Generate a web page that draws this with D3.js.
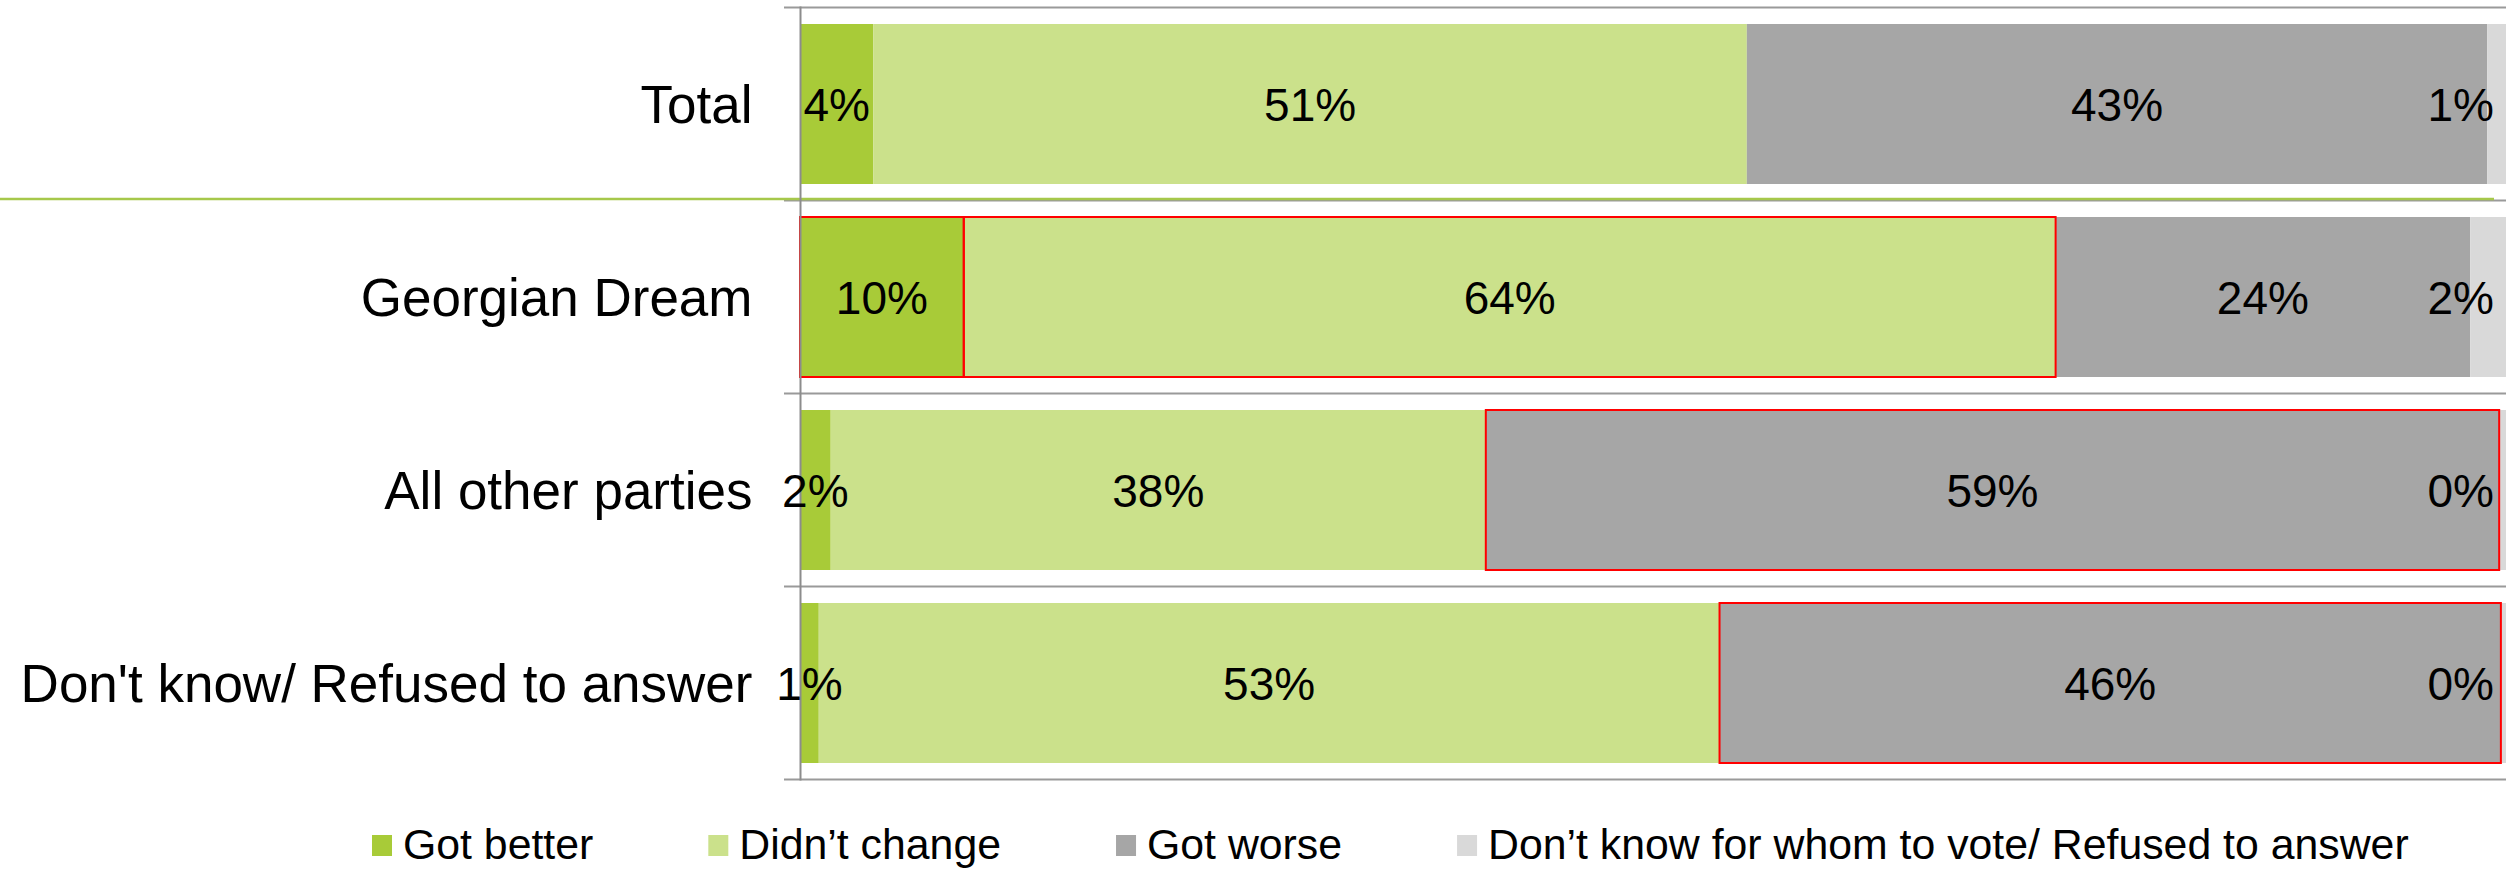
<!DOCTYPE html>
<html>
<head>
<meta charset="utf-8">
<script src="https://cdn.jsdelivr.net/npm/d3@7"></script>
<style>
  html, body { margin: 0; padding: 0; background: #fff; }
  svg { display: block; font-family: "Liberation Sans", Arial, sans-serif; }
</style>
</head>
<body>
<svg id="chart" width="2506" height="869"></svg>
<script>
// ---- data ----
const categories = ["Total", "Georgian Dream", "All other parties", "Don't know/ Refused to answer"];
const seriesNames = ["Got better", "Didn’t change", "Got worse", "Don’t know for whom to vote/ Refused to answer"];
const gotBetter   = [4.3, 9.6, 1.8, 1.1];
const didntChange = [51.2, 64.0, 38.4, 52.8];
const gotWorse    = [43.4, 24.3, 59.4, 45.8];
const dontKnow    = [1.1, 2.1, 0.4, 0.3];
const seriesColors = ["#A8CB38", "#CBE18B", "#A6A6A6", "#D9D9D9"];
// segments outlined in red: [category, series]
const highlighted = [
  ["Georgian Dream", "Got better"],
  ["Georgian Dream", "Didn’t change"],
  ["All other parties", "Got worse"],
  ["Don't know/ Refused to answer", "Got worse"]
];

// ---- build table ----
const seriesValues = [gotBetter, didntChange, gotWorse, dontKnow];
const table = categories.map((c, i) => {
  const row = { category: c };
  seriesNames.forEach((s, j) => { row[s] = seriesValues[j][i]; });
  return row;
});
const stacked = d3.stack().keys(seriesNames)(table);

// ---- layout ----
const W = 2506, H = 869;
const plotLeft = 800, plotRight = 2506, plotTop = 7.5, plotBottom = 779.5;
const svg = d3.select("#chart");

const x = d3.scaleLinear().domain([0, 100]).range([plotLeft, plotRight]);
const y = d3.scaleBand().domain(categories).range([plotTop, plotBottom])
  .paddingInner(0.171).paddingOuter(0.0855);
const color = d3.scaleOrdinal().domain(seriesNames).range(seriesColors);

// gridlines (band boundaries) incl. tick stubs on the left
const boundaries = categories.map(c => y(c) - y.step() * y.paddingInner() / 2);
boundaries[0] = plotTop;
boundaries.push(plotBottom);
svg.append("g").selectAll("line").data(boundaries).join("line")
  .attr("x1", plotLeft - 16).attr("x2", plotRight)
  .attr("y1", d => d).attr("y2", d => d)
  .attr("stroke", "#9a9a9a").attr("stroke-width", 2);

// green separator under "Total"
svg.append("line")
  .attr("x1", 0).attr("x2", 2494)
  .attr("y1", boundaries[1] - 1.5).attr("y2", boundaries[1] - 1.5)
  .attr("stroke", "#A6C84B").attr("stroke-width", 2.5);

// bars
const isHi = (cat, key) => highlighted.some(h => h[0] === cat && h[1] === key);
const layers = svg.append("g").selectAll("g").data(stacked).join("g")
  .attr("fill", d => color(d.key));
layers.selectAll("rect").data(d => d.map(v => ({ key: d.key, v }))).join("rect")
  .attr("x", d => x(d.v[0]))
  .attr("width", d => x(d.v[1]) - x(d.v[0]))
  .attr("y", d => y(d.v.data.category))
  .attr("height", y.bandwidth());

// red outlines on top
svg.append("g").selectAll("rect")
  .data(stacked.flatMap(s => s.map(v => ({ key: s.key, v }))).filter(d => isHi(d.v.data.category, d.key)))
  .join("rect")
  .attr("x", d => x(d.v[0]))
  .attr("width", d => x(d.v[1]) - x(d.v[0]))
  .attr("y", d => y(d.v.data.category))
  .attr("height", y.bandwidth())
  .attr("fill", "none").attr("stroke", "#FF0000").attr("stroke-width", 2);

// vertical axis line
svg.append("line")
  .attr("x1", plotLeft + 0.5).attr("x2", plotLeft + 0.5)
  .attr("y1", plotTop - 1).attr("y2", plotBottom + 1)
  .attr("stroke", "#8c8c8c").attr("stroke-width", 2);

// data labels
const labelLimit = 2494;
const fmt = v => d3.format(".0f")(v) + "%";
const lbl = svg.append("g").selectAll("text")
  .data(stacked.flatMap(s => s.map(v => ({ key: s.key, v }))))
  .join("text")
  .attr("font-size", 46)
  .attr("fill", "#000")
  .attr("text-anchor", "middle")
  .attr("y", d => y(d.v.data.category) + y.bandwidth() / 2 + 16.5)
  .text(d => fmt(d.v[1] - d.v[0]));
lbl.each(function(d) {
  const w = this.getComputedTextLength();
  const cx = (x(d.v[0]) + x(d.v[1])) / 2;
  d3.select(this).attr("x", Math.min(cx, labelLimit - w / 2));
});

// category axis labels
const yAxis = d3.axisLeft(y).tickSize(0).tickPadding(0);
const ga = svg.append("g").attr("transform", `translate(752.5,0)`).call(yAxis);
ga.select(".domain").remove();
ga.selectAll("text")
  .attr("font-size", 53)
  .attr("font-family", "\"Liberation Sans\", Arial, sans-serif")
  .attr("fill", "#000")
  .attr("dy", null)
  .attr("dominant-baseline", "auto")
  .attr("y", 19);

// legend
const legend = svg.append("g").attr("transform", "translate(372,0)");
let lx = 0;
seriesNames.forEach((name, i) => {
  const g = legend.append("g").attr("transform", `translate(${lx},0)`);
  g.append("rect").attr("x", 0).attr("y", 835).attr("width", 20).attr("height", 21)
    .attr("fill", seriesColors[i]);
  const t = g.append("text").attr("x", 31).attr("y", 859)
    .attr("font-size", 42.8).attr("fill", "#000").text(name);
  lx += 31 + t.node().getComputedTextLength() + 115;
});
</script>
</body>
</html>
